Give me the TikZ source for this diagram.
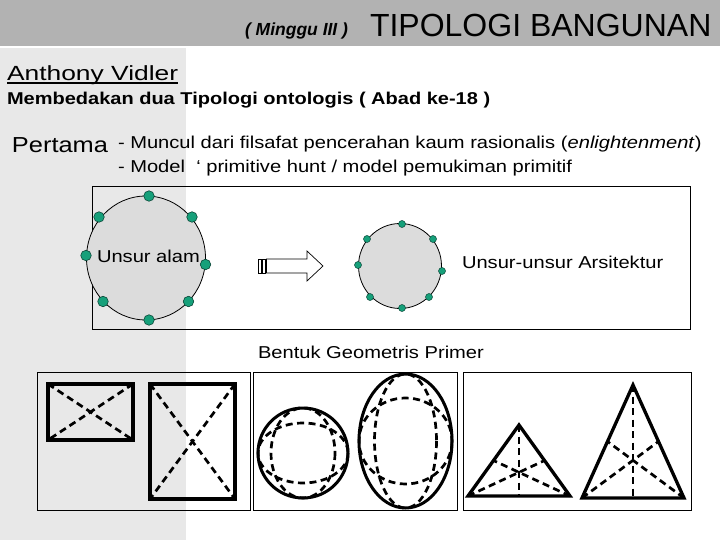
\documentclass[tikz,border=0pt]{standalone}
\usepackage{fontspec}
\setmainfont{Liberation Sans}[FakeStretch=1.17]
\newfontfamily\plainsans{Liberation Sans}
\usetikzlibrary{shapes.geometric,calc}
\definecolor{hdr}{RGB}{178,178,178}
\definecolor{panel}{RGB}{232,232,232}
\definecolor{cfill}{RGB}{220,220,220}
\definecolor{dotc}{RGB}{22,160,122}
\definecolor{dotline}{RGB}{10,70,55}
\newcommand\fsz[1]{\fontsize{#1}{#1}\selectfont}
\begin{document}
\begin{tikzpicture}[x=1pt,y=-1pt,
  txt/.style={anchor=base west, inner sep=0pt, outer sep=0pt},
  frame/.style={draw=black, line width=1pt},
  heavy/.style={draw=black, line width=3.3pt, line join=miter},
  dashln/.style={draw=black, line width=2.7pt, dash pattern=on 7pt off 4.5pt},
  bigdot/.style={circle, draw=dotline, fill=dotc, line width=0.6pt, minimum size=10.5pt, inner sep=0pt},
  smalldot/.style={circle, draw=dotline, fill=dotc, line width=0.5pt, minimum size=7pt, inner sep=0pt},
  blob/.style={ellipse, draw=black, fill=cfill, line width=0.8pt, inner sep=0pt}]
\useasboundingbox (0,0) rectangle (720,540);
\fill[white] (0,0) rectangle (720,540);
% backgrounds
\fill[hdr] (0,0) rectangle (720,46);
\fill[panel] (0,48) rectangle (186,540);
% header texts
\node[txt, font=\plainsans\fsz{17.5}\bfseries\itshape] (week) at (245,36) {( Minggu III )};
\node[txt, font=\plainsans\fsz{32}] (title) at (370,37) {TIPOLOGI BANGUNAN};
% author
\node[txt, font=\fsz{20.5}] (author) at (7,80.7) {\scalebox{1.1}[1]{Anthony Vidler}};
\draw[line width=2pt] ([yshift=-2.6pt]author.base west) -- ([yshift=-2.6pt]author.base east);
\node[txt, font=\fsz{17.1}\bfseries] (sub) at (7,104.3) {Membedakan dua Tipologi ontologis ( Abad ke-18 )};
\node[txt, font=\fsz{21.7}] (first) at (12,152.7) {Pertama};
\node[txt, font=\fsz{17.2}] (b1) at (118,148.3) {- Muncul dari filsafat pencerahan kaum rasionalis (\textit{enlightenment})};
\node[txt, font=\fsz{17.2}] (b2) at (118,172.7) {- Model\ \ ‘ primitive hunt / model pemukiman primitif};
% box 1
\draw[frame] (92,187) rectangle (690,329);
\node[blob, minimum width=119pt, minimum height=124pt] (nat) at (146,258) {};
\node[txt, font=\fsz{17.2}] (natlbl) at (97,262) {Unsur alam};
\foreach \i/\px/\py in {1/149/196,2/99/217,3/192/217,4/86/255.5,5/205.5/264.5,6/103/301.5,7/188.5/301.5,8/149/320}
  \node[bigdot] (d\i) at (\px,\py) {};
\node[blob, minimum width=83pt, minimum height=85pt] (arch) at (400,266) {};
\foreach \i/\px/\py in {1/402/224,2/367/239,3/433/239,4/358/265,5/442/271,6/370/297,7/429/297,8/402/308}
  \node[smalldot] (s\i) at (\px,\py) {};
\draw[fill=white, line width=0.7pt] (258,259) rectangle (261,273);
\draw[fill=white, line width=0.7pt] (262.5,259) rectangle (265,273);
\draw[fill=white, line width=0.7pt] (266.5,259) -- (307,259) -- (307,251) -- (323,266) -- (307,281) -- (307,273) -- (266.5,273) -- cycle;
\node[txt, font=\fsz{17.2}] (archlbl) at (462,268) {Unsur-unsur Arsitektur};
\node[txt, font=\fsz{17.2}] (geo) at (258,358) {Bentuk Geometris Primer};
% box 2 : rectangles
\draw[frame] (37,372) rectangle (250,510);
\coordinate (ra1) at (48,384); \coordinate (ra2) at (133,384);
\coordinate (ra3) at (133,440); \coordinate (ra4) at (48,440);
\draw[dashln] (ra1) -- (ra3); \draw[dashln] (ra2) -- (ra4);
\draw[heavy] (ra1) -- (ra2) -- (ra3) -- (ra4) -- cycle;
\coordinate (rb1) at (150,384); \coordinate (rb2) at (235,384);
\coordinate (rb3) at (235,499); \coordinate (rb4) at (150,499);
\draw[dashln] (rb1) -- (rb3); \draw[dashln] (rb2) -- (rb4);
\draw[heavy] (rb1) -- (rb2) -- (rb3) -- (rb4) -- cycle;
% box 3 : sphere and ellipsoid
\draw[frame] (253,372) rectangle (457,510);
\coordinate (sph) at (303,453);
\draw[dashln] (sph) ellipse [x radius=45, y radius=30];
\draw[dashln] (sph) ellipse [x radius=32, y radius=45];
\draw[heavy, line width=3pt] (sph) circle [radius=45];
\coordinate (egg) at (405.5,441);
\draw[dashln] (egg) ellipse [x radius=46.5, y radius=43];
\draw[dashln] (egg) ellipse [x radius=31, y radius=67];
\draw[heavy, line width=3pt] (egg) ellipse [x radius=46.5, y radius=67];
% box 4 : triangles
\draw[frame] (463,372) rectangle (691,510);
\coordinate (ta) at (519,425); \coordinate (tb) at (468,496); \coordinate (tc) at (570,496);
\draw[dashln] (ta) -- ($(tb)!0.5!(tc)$);
\draw[dashln] (tb) -- ($(ta)!0.5!(tc)$);
\draw[dashln] (tc) -- ($(ta)!0.5!(tb)$);
\draw[heavy] (ta) -- (tb) -- (tc) -- cycle;
\coordinate (ua) at (633,385); \coordinate (ub) at (582,498); \coordinate (uc) at (684,498);
\draw[dashln] (ua) -- ($(ub)!0.5!(uc)$);
\draw[dashln] (ub) -- ($(ua)!0.5!(uc)$);
\draw[dashln] (uc) -- ($(ua)!0.5!(ub)$);
\draw[heavy] (ua) -- (ub) -- (uc) -- cycle;
\end{tikzpicture}
\end{document}
